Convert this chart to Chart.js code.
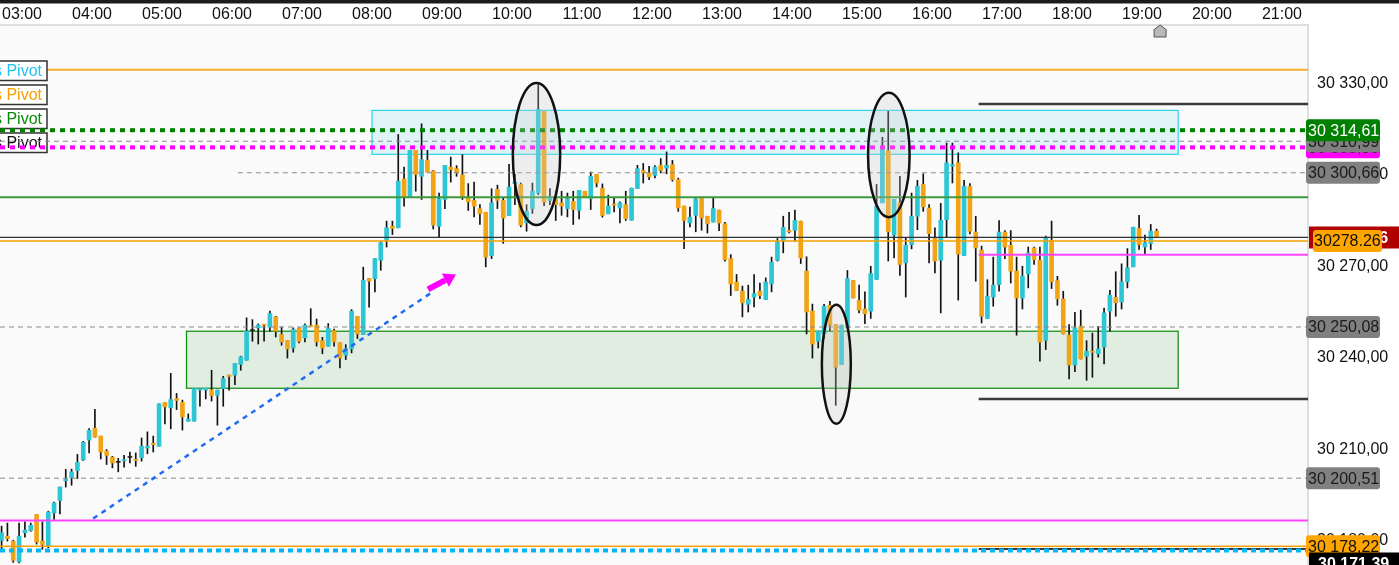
<!DOCTYPE html>
<html><head><meta charset="utf-8">
<script src="https://cdn.jsdelivr.net/npm/chart.js@4.4.0/dist/chart.umd.min.js"></script>
<style>html,body{margin:0;padding:0;background:#fff;overflow:hidden}#wrap{width:1399px;height:565px;position:relative}</style>
</head><body><div id="wrap"><canvas id="c"></canvas></div>
<script>
// ---------- data ----------
const firstBarTime = '02:40';
const barMinutes = 5;
const open = [30180.1,30181.5,30179.9,30173.1,30182.6,30183.4,30188.6,30179.9,30178.2,30189.1,30193.2,30199.7,30200.6,30203.0,30206.5,30213.0,30216.9,30214.3,30209.4,30207.4,30205.7,30206.2,30207.3,30206.7,30207.2,30210.4,30212.0,30211.0,30225.4,30223.6,30226.6,30225.4,30219.2,30219.2,30229.4,30229.4,30229.4,30227.7,30229.9,30234.3,30234.3,30237.8,30239.2,30248.9,30249.8,30250.9,30250.0,30253.4,30247.6,30245.7,30243.2,30249.6,30246.5,30250.5,30250.7,30245.6,30243.8,30248.9,30244.9,30240.8,30242.9,30253.6,30247.6,30266.0,30265.9,30272.0,30278.5,30283.1,30282.6,30298.6,30292.7,30308.0,30299.5,30304.8,30301.2,30283.1,30291.9,30302.5,30302.0,30299.9,30292.6,30291.6,30288.9,30287.7,30273.5,30295.2,30291.6,30286.6,30297.1,30296.8,30284.2,30288.9,30294.0,30320.8,30291.6,30291.9,30290.8,30288.9,30291.3,30288.3,30294.6,30292.2,30300.1,30295.5,30287.2,30290.4,30289.1,30290.2,30285.1,30295.5,30301.4,30300.6,30299.8,30303.1,30302.2,30303.3,30298.4,30289.7,30284.2,30286.7,30292.6,30286.4,30284.5,30288.4,30283.9,30272.5,30264.8,30261.8,30257.5,30259.9,30261.8,30259.1,30264.2,30272.0,30278.5,30281.8,30281.8,30284.8,30268.4,30255.3,30245.4,30247.8,30257.2,30250.9,30237.8,30249.8,30265.3,30258.8,30256.0,30255.3,30265.7,30290.8,30307.9,30280.2,30290.8,30271.1,30277.1,30286.4,30296.8,30289.1,30279.3,30272.0,30285.3,30302.8,30303.9,30273.5,30296.2,30281.2,30275.3,30252.9,30259.9,30264.0,30281.2,30276.9,30268.4,30259.6,30267.5,30276.0,30272.0,30245.7,30278.4,30265.3,30259.3,30247.4,30237.6,30250.4,30240.5,30242.0,30241.3,30243.5,30255.3,30259.8,30258.3,30264.9,30269.8,30282.4,30276.3,30277.5,30281.5];
const high = [30184.8,30185.8,30180.2,30185.8,30186.2,30185.8,30188.6,30186.2,30189.7,30192.7,30197.6,30203.4,30203.5,30208.3,30212.6,30216.8,30223.1,30214.3,30209.9,30207.7,30207.0,30208.0,30209.1,30208.8,30213.7,30215.7,30214.3,30224.9,30225.4,30234.9,30228.3,30226.1,30221.6,30229.9,30230.0,30230.0,30235.9,30229.4,30233.9,30234.3,30238.1,30240.5,30253.1,30252.5,30251.1,30250.9,30255.3,30253.6,30250.1,30245.7,30249.8,30249.8,30251.1,30256.1,30252.7,30246.7,30251.2,30249.4,30244.9,30244.3,30255.8,30253.6,30269.7,30266.0,30272.5,30278.0,30284.8,30284.8,30313.2,30302.5,30308.0,30308.0,30316.7,30308.0,30301.4,30294.0,30303.1,30305.8,30303.0,30306.6,30297.1,30297.6,30290.2,30287.7,30295.4,30296.6,30292.4,30303.4,30300.1,30297.3,30290.2,30297.3,30329.6,30320.8,30295.5,30294.6,30294.6,30294.0,30294.6,30294.9,30294.6,30300.9,30300.1,30297.0,30293.3,30292.4,30291.1,30294.6,30295.6,30303.1,30303.7,30302.8,30303.0,30305.3,30307.5,30304.7,30298.9,30289.7,30289.4,30292.6,30292.6,30286.4,30292.6,30288.4,30284.4,30273.8,30267.3,30263.5,30263.8,30267.3,30264.5,30266.2,30273.0,30279.1,30286.4,30287.7,30288.4,30284.8,30273.1,30257.6,30248.7,30257.5,30258.5,30250.9,30250.7,30268.6,30265.3,30263.8,30261.6,30270.0,30296.8,30312.3,30320.8,30291.9,30299.5,30279.3,30294.0,30298.2,30300.3,30290.2,30282.6,30290.6,30310.4,30310.4,30307.2,30298.2,30297.1,30286.4,30276.6,30265.6,30273.0,30285.0,30281.7,30281.7,30273.0,30270.0,30276.3,30276.3,30276.3,30279.9,30284.8,30266.7,30261.8,30250.9,30254.9,30255.6,30245.6,30248.1,30250.3,30256.3,30262.1,30268.2,30270.8,30275.8,30282.8,30286.7,30280.2,30283.7,30282.2];
const low = [30177.2,30179.9,30172.9,30172.7,30181.2,30183.1,30178.9,30177.2,30177.7,30187.0,30188.8,30197.6,30198.2,30200.4,30206.3,30208.8,30214.0,30206.8,30205.0,30203.9,30202.6,30204.1,30205.5,30204.4,30206.1,30208.5,30209.1,30211.0,30218.3,30216.7,30223.0,30216.3,30219.2,30219.2,30224.1,30226.5,30225.8,30217.9,30224.1,30229.4,30231.2,30235.9,30239.2,30245.4,30244.5,30245.4,30248.7,30246.8,30244.1,30239.9,30241.8,30244.9,30245.2,30250.2,30243.8,30241.3,30243.8,30243.8,30236.7,30239.4,30241.6,30246.3,30247.6,30256.6,30261.6,30268.7,30276.3,30280.4,30282.6,30289.7,30292.7,30294.6,30291.9,30300.9,30282.2,30279.6,30288.9,30297.6,30299.5,30291.9,30288.3,30286.2,30283.7,30269.8,30272.5,30288.9,30277.5,30286.6,30290.2,30282.9,30281.5,30287.3,30293.5,30289.9,30290.2,30285.0,30286.7,30286.2,30283.7,30285.5,30292.6,30288.6,30296.0,30286.1,30287.2,30287.8,30284.2,30285.0,30285.1,30295.5,30297.3,30298.4,30299.0,30300.6,30300.3,30297.9,30288.0,30275.8,30282.9,30281.3,30281.8,30280.9,30284.5,30281.7,30271.7,30260.4,30262.1,30253.4,30255.0,30256.7,30259.4,30259.1,30261.6,30271.7,30274.4,30280.9,30278.2,30270.9,30247.8,30239.9,30243.2,30246.3,30248.9,30224.4,30237.8,30249.8,30259.6,30254.7,30251.2,30252.9,30265.7,30290.8,30271.7,30272.7,30267.0,30259.9,30275.7,30282.0,30288.0,30271.1,30267.8,30254.7,30279.6,30297.3,30258.9,30273.5,30280.6,30265.1,30251.4,30252.9,30256.9,30261.8,30272.5,30264.5,30247.4,30256.0,30262.9,30270.6,30238.9,30242.7,30262.7,30257.2,30247.8,30233.1,30235.4,30239.6,30232.6,30233.6,30240.2,30238.0,30248.7,30253.6,30256.0,30262.9,30269.8,30275.5,30274.0,30275.5,30279.6];
const close = [30182.6,30180.7,30173.6,30181.5,30183.5,30185.1,30179.6,30178.8,30189.4,30192.4,30197.6,30200.1,30202.6,30205.7,30212.3,30216.2,30214.0,30209.1,30208.0,30205.5,30205.7,30206.6,30207.3,30206.3,30211.0,30211.0,30211.5,30224.9,30223.9,30226.3,30226.0,30220.6,30219.9,30229.9,30229.9,30230.0,30227.6,30229.4,30233.2,30233.9,30238.1,30240.3,30248.7,30248.9,30250.7,30250.7,30254.5,30248.7,30245.2,30242.9,30249.3,30245.4,30250.7,30250.2,30245.2,30243.2,30249.6,30245.2,30239.9,30243.0,30255.3,30247.8,30265.4,30265.1,30272.5,30277.7,30282.6,30282.4,30297.9,30292.7,30308.0,30300.1,30305.0,30300.9,30283.5,30292.1,30303.1,30301.7,30300.6,30292.6,30291.1,30289.7,30287.2,30273.0,30290.8,30291.6,30285.8,30296.0,30297.6,30283.5,30288.0,30294.6,30321.4,30291.1,30292.7,30290.2,30289.7,30292.2,30288.6,30294.9,30292.6,30299.5,30297.3,30286.7,30289.7,30290.0,30290.8,30285.6,30295.6,30302.0,30300.6,30299.3,30302.5,30301.4,30303.1,30298.4,30289.1,30285.0,30286.1,30292.1,30285.8,30284.0,30288.9,30284.2,30272.2,30264.2,30262.1,30258.0,30259.1,30261.0,30260.4,30264.8,30271.3,30278.0,30282.8,30281.3,30285.0,30272.7,30255.0,30244.5,30248.7,30256.9,30250.7,30236.9,30250.7,30266.0,30259.6,30255.6,30254.4,30267.6,30289.7,30309.4,30281.3,30291.9,30270.6,30276.9,30286.4,30296.2,30289.5,30280.7,30271.7,30285.1,30303.9,30303.3,30274.0,30296.2,30281.5,30276.0,30253.6,30260.2,30263.8,30281.2,30276.3,30268.4,30259.6,30266.8,30274.4,30272.2,30245.1,30279.3,30264.9,30259.3,30247.8,30237.6,30249.8,30239.6,30242.1,30241.8,30242.9,30254.7,30260.5,30258.0,30264.9,30269.5,30282.8,30277.1,30277.7,30281.5,30279.6];

const hourTicks = ['03:00','04:00','05:00','06:00','07:00','08:00','09:00','10:00','11:00','12:00','13:00','14:00','15:00','16:00','17:00','18:00','19:00','20:00','21:00'];
const priceTicks = [30180,30210,30240,30270,30300,30330];
const viewStart = '02:41.14', viewEnd = '21:22.29';
const priceMin = 30172.05, priceMax = 30349.1;

// horizontal levels across the whole chart
const fullLevels = [30314.61,30310.99,30308.98,30292.6,30279.46,30278.26,30250.08,30200.51,30186.6,30178.22,30176.8];
const topLevel = 30334.4;
// levels drawn from a given time
const partialLevels = [30300.66,30323.2,30273.8,30226.5,30177.3];
const partialStarts = ['06:05','16:40','16:40','16:40','16:40'];
// zones
const zoneTops = [30321.1,30248.7];
const zoneBottoms = [30306.7,30230.0];
const zoneStarts = ['08:00','05:21'];
const zoneEnds = ['19:31','19:31'];
// ellipses (center time, half width minutes, center price, half height price)
const ellTimes = ['10:21','15:23','14:38'];
const ellHalfMin = [20.3,17.8,12.4];
const ellPrices = [30306.8,30306.5,30237.9];
const ellHalfPrice = [23.3,20.4,19.5];
// trend line and arrow
const trendTimes = ['04:01','08:50'];
const trendPrices = [30187.3,30261.1];
const arrowTimes = ['08:48','09:12'];
const arrowPrices = [30262.4,30267.3];
// left pivot labels
const pivotTexts = ['s Pivot','s Pivot','s Pivot','s Pivot'];
// right price labels
const tagValues = [30308.98,30310.99,30314.61,30300.66,30279.46,30278.26,30250.08,30200.51,30178.22,30171.39];
const tagTexts = ['30 308,98','30 310,99','30 314,61','30 300,66','30 279,46','30278.26','30 250,08','30 200,51','30 178,22','30 171,39'];

// ---------- styles ----------
const FONT = '"Liberation Sans", Arial, sans-serif';
const BULL = '#2cc6d4', BEAR = '#f1a416', DOJI = '#222';
const fullStyles = [
  {c:'#007f00',w:4,d:[5,5]},{c:'#8a8a8a',w:1,d:[5,4]},{c:'#ff00ff',w:4,d:[5,5]},{c:'#3d9a3d',w:2},
  {c:'#333',w:1.2},{c:'#f5a000',w:1.5},{c:'#8a8a8a',w:1,d:[5,4]},{c:'#8a8a8a',w:1,d:[5,4]},
  {c:'#ff44ff',w:2},{c:'#f5a000',w:1.5},{c:'#00b8f5',w:4,d:[5,4]}];
const partialStyles = [{c:'#8a8a8a',w:1,d:[5,4]},{c:'#3a3a3a',w:2.5},{c:'#ff44ff',w:2},{c:'#3a3a3a',w:2.5},{c:'#3a3a3a',w:2}];
const zoneFill = ['rgba(0,200,235,0.10)','rgba(0,128,0,0.10)'];
const zoneStroke = ['#2ad4ea','#0a8a0a'];
const pivotColors = ['#22c4ee','#f5a000','#0a8a0a','#111'];
const tagStyles = [
  {bg:'#ff00ff',fg:'#222'},{bg:'#808080',fg:'#1a1a1a'},{bg:'#008000',fg:'#fff'},{bg:'#808080',fg:'#1a1a1a'},
  {bg:'#b00000',fg:'#fff',x0:1309,x1:1399,tx:1317,bold:true},{bg:'#ffa500',fg:'#111',x0:1313,x1:1382,tx:1314},
  {bg:'#808080',fg:'#1a1a1a'},{bg:'#808080',fg:'#1a1a1a'},{bg:'#ffa500',fg:'#111'},
  {bg:'#000',fg:'#fff',x0:1309,x1:1399,tx:1318,bold:true,clampBottom:true}];

// ---------- helpers ----------
const tm = s => { const [h,m] = s.split(':'); return Number(h)*60 + Number(m); };
const fmtPrice = v => { const s = v.toFixed(2).split('.'); return s[0].replace(/\B(?=(\d{3})+(?!\d))/g,' ') + ',' + s[1]; };
const times = open.map((_, i) => tm(firstBarTime) + barMinutes * (i + 0.5));
const bodyColors = open.map((o, i) => close[i] > o ? BULL : (close[i] < o ? BEAR : DOJI));

function hline(ctx, x0, x1, y, st) {
  ctx.save(); ctx.beginPath(); ctx.strokeStyle = st.c; ctx.lineWidth = st.w; ctx.setLineDash(st.d || []);
  ctx.moveTo(x0, y); ctx.lineTo(x1, y); ctx.stroke(); ctx.restore();
}
function rrect(ctx, x, y, w, h, r) {
  ctx.beginPath(); ctx.moveTo(x + r, y); ctx.lineTo(x + w - r, y); ctx.quadraticCurveTo(x + w, y, x + w, y + r);
  ctx.lineTo(x + w, y + h - r); ctx.quadraticCurveTo(x + w, y + h, x + w - r, y + h); ctx.lineTo(x + r, y + h);
  ctx.quadraticCurveTo(x, y + h, x, y + h - r); ctx.lineTo(x, y + r); ctx.quadraticCurveTo(x, y, x + r, y); ctx.closePath();
}
function noPad(s) { s.paddingTop = 0; s.paddingBottom = 0; s.paddingLeft = 0; s.paddingRight = 0; }

const overlay = {
  id: 'overlay',
  beforeDraw(chart) {
    const {ctx, chartArea: a} = chart;
    ctx.save(); ctx.fillStyle = '#fafafa'; ctx.fillRect(a.left, a.top, a.right - a.left, a.bottom - a.top); ctx.restore();
  },
  beforeDatasetsDraw(chart) {
    const {ctx, chartArea: a, scales: {x, y}} = chart;
    ctx.save(); ctx.beginPath(); ctx.rect(a.left, a.top, a.right - a.left, a.bottom - a.top); ctx.clip();
    zoneTops.forEach((t, i) => {
      const x0 = x.getPixelForValue(tm(zoneStarts[i])), x1 = x.getPixelForValue(tm(zoneEnds[i]));
      const y0 = y.getPixelForValue(t), y1 = y.getPixelForValue(zoneBottoms[i]);
      ctx.fillStyle = zoneFill[i]; ctx.fillRect(x0, y0, x1 - x0, y1 - y0);
      ctx.strokeStyle = zoneStroke[i]; ctx.lineWidth = 1.2; ctx.strokeRect(x0, y0, x1 - x0, y1 - y0);
    });
    ctx.restore();
  },
  afterDatasetsDraw(chart) {
    const {ctx, chartArea: a, scales: {x, y}} = chart;
    ctx.save(); ctx.beginPath(); ctx.rect(a.left, a.top, a.right - a.left, a.bottom - a.top); ctx.clip();
    hline(ctx, a.left, a.right, y.getPixelForValue(topLevel), {c:'#f6ae2d', w:2});
    ctx.font = '16px ' + FONT; ctx.textBaseline = 'middle'; ctx.textAlign = 'right';
    pivotTexts.forEach((t, i) => {
      const cy = a.top + 45.5 + 24 * i;
      ctx.fillStyle = '#fff'; ctx.fillRect(a.left - 5, cy - 9.5, 52, 19.5);
      ctx.strokeStyle = '#333'; ctx.lineWidth = 1.5; ctx.strokeRect(a.left - 5, cy - 9.5, 52, 19.5);
      ctx.fillStyle = pivotColors[i]; ctx.fillText(t, a.left + 42, cy + 1);
    });
    partialLevels.forEach((v, i) => hline(ctx, x.getPixelForValue(tm(partialStarts[i])), a.right, y.getPixelForValue(v), partialStyles[i]));
    fullLevels.forEach((v, i) => hline(ctx, a.left, a.right, y.getPixelForValue(v), fullStyles[i]));
    ctx.save(); ctx.strokeStyle = '#1f6cf2'; ctx.lineWidth = 2.5; ctx.setLineDash([5, 5]); ctx.beginPath();
    ctx.moveTo(x.getPixelForValue(tm(trendTimes[0])), y.getPixelForValue(trendPrices[0]));
    ctx.lineTo(x.getPixelForValue(tm(trendTimes[1])), y.getPixelForValue(trendPrices[1])); ctx.stroke(); ctx.restore();
    const ax0 = x.getPixelForValue(tm(arrowTimes[0])), ay0 = y.getPixelForValue(arrowPrices[0]);
    const ax1 = x.getPixelForValue(tm(arrowTimes[1])), ay1 = y.getPixelForValue(arrowPrices[1]);
    const ang = Math.atan2(ay1 - ay0, ax1 - ax0), hl = 12, hw = 7.5;
    const bx = ax1 - hl * Math.cos(ang), by = ay1 - hl * Math.sin(ang);
    ctx.save(); ctx.strokeStyle = '#ff00ff'; ctx.lineWidth = 6; ctx.beginPath(); ctx.moveTo(ax0, ay0); ctx.lineTo(bx, by); ctx.stroke();
    ctx.fillStyle = '#ff00ff'; ctx.beginPath(); ctx.moveTo(ax1, ay1);
    ctx.lineTo(bx + hw * Math.sin(ang), by - hw * Math.cos(ang)); ctx.lineTo(bx - hw * Math.sin(ang), by + hw * Math.cos(ang));
    ctx.closePath(); ctx.fill(); ctx.restore();
    ellTimes.forEach((t, i) => {
      const cx = x.getPixelForValue(tm(t)), cy = y.getPixelForValue(ellPrices[i]);
      const rx = x.getPixelForValue(tm(t) + ellHalfMin[i]) - cx, ry = cy - y.getPixelForValue(ellPrices[i] + ellHalfPrice[i]);
      ctx.beginPath(); ctx.ellipse(cx, cy, rx, ry, 0, 0, Math.PI * 2);
      ctx.fillStyle = 'rgba(205,205,205,0.28)'; ctx.fill();
      ctx.strokeStyle = '#111'; ctx.lineWidth = 2.5; ctx.stroke();
    });
    ctx.restore();
  },
  afterDraw(chart) {
    const {ctx, chartArea: a, scales: {x, y}, width} = chart;
    ctx.save();
    ctx.fillStyle = '#1c1c1c'; ctx.fillRect(0, 0, width, 3.5);
    const mx = x.getPixelForValue(times[times.length - 1]) + 3.5, my = a.top;
    ctx.beginPath(); ctx.moveTo(mx - 6, my + 12); ctx.lineTo(mx - 6, my + 4.5); ctx.lineTo(mx, my); ctx.lineTo(mx + 6, my + 4.5); ctx.lineTo(mx + 6, my + 12); ctx.closePath();
    ctx.fillStyle = '#b8b8b8'; ctx.fill(); ctx.strokeStyle = '#555'; ctx.lineWidth = 1; ctx.stroke();
    ctx.textBaseline = 'middle'; ctx.textAlign = 'left';
    tagValues.forEach((v, i) => {
      const st = tagStyles[i];
      let cy = y.getPixelForValue(v);
      if (st.clampBottom) cy = Math.min(cy, a.bottom - 1.5);
      const x0 = st.x0 || 1306, x1 = st.x1 || 1380, h = 22;
      ctx.fillStyle = st.bg; rrect(ctx, x0, cy - h / 2, x1 - x0, h, st.x1 === 1399 ? 0 : 3); ctx.fill();
      ctx.fillStyle = st.fg; ctx.font = (st.bold ? 'bold ' : '') + '16px ' + FONT;
      ctx.fillText(tagTexts[i], st.tx || 1308, cy + 1);
    });
    ctx.restore();
  }
};

new Chart(document.getElementById('c'), {
  type: 'bar',
  data: {
    datasets: [
      {label: 'body', data: times.map((t, i) => ({x: t, y: [open[i], close[i]]})), backgroundColor: bodyColors,
       barThickness: 4, minBarLength: 1, grouped: false, borderWidth: 0, order: 0},
      {label: 'wick', data: times.map((t, i) => ({x: t, y: [low[i], high[i]]})), backgroundColor: '#111',
       barThickness: 1, grouped: false, borderWidth: 0, order: 1}
    ]
  },
  options: {
    responsive: true, maintainAspectRatio: false, animation: false, devicePixelRatio: 1,
    layout: {padding: 0},
    plugins: {legend: {display: false}, tooltip: {enabled: false}},
    scales: {
      x: {
        type: 'linear', position: 'top', offset: false,
        min: tm(viewStart), max: tm(viewEnd),
        grid: {display: false, drawTicks: false},
        border: {display: true, color: '#dedede', width: 2},
        ticks: {font: {family: FONT, size: 16}, color: '#111', padding: 1, maxRotation: 0, autoSkip: false,
                callback: v => { const h = Math.floor(v / 60); return String(h).padStart(2, '0') + ':00'; }},
        afterBuildTicks: s => { s.ticks = hourTicks.map(t => ({value: tm(t)})); },
        afterFit: s => { s.height = 25; noPad(s); }
      },
      y: {
        type: 'linear', position: 'right', min: priceMin, max: priceMax,
        grid: {display: false, drawTicks: false},
        border: {display: true, color: '#dedede', width: 2},
        ticks: {font: {family: FONT, size: 16}, color: '#111', padding: 9, callback: v => fmtPrice(v)},
        afterBuildTicks: s => { s.ticks = priceTicks.map(v => ({value: v})); },
        afterFit: s => { s.width = 91; noPad(s); }
      }
    }
  },
  plugins: [overlay]
});
</script>
</body></html>
